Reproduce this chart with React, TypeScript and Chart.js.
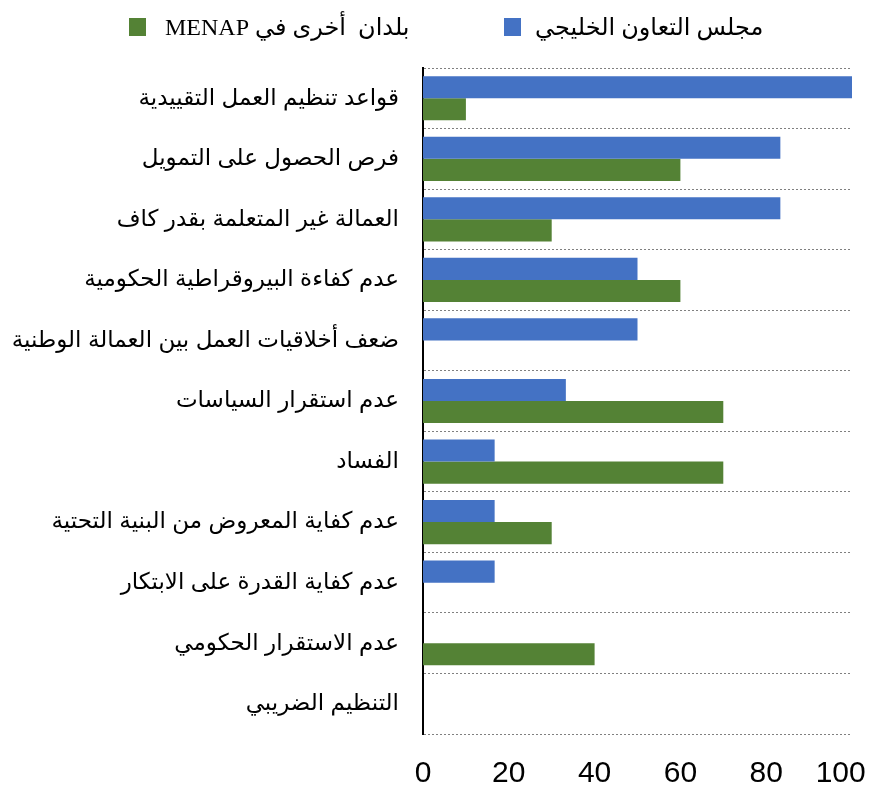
import React, { useEffect, useRef } from "react";
import { Chart, registerables } from "chart.js";

Chart.register(...registerables);

const categories = [
  "قواعد تنظيم العمل التقييدية",
  "فرص الحصول على التمويل",
  "العمالة غير المتعلمة بقدر كاف",
  "عدم كفاءة البيروقراطية الحكومية",
  "ضعف أخلاقيات العمل بين العمالة الوطنية",
  "عدم استقرار السياسات",
  "الفساد",
  "عدم كفاية المعروض من البنية التحتية",
  "عدم كفاية القدرة على الابتكار",
  "عدم الاستقرار الحكومي",
  "التنظيم الضريبي",
];

const gccValues = [100, 83.3, 83.3, 50, 50, 33.3, 16.7, 16.7, 16.7, 0, 0];
const otherMenapValues = [10, 60, 30, 60, 0, 70, 70, 30, 0, 40, 0];

const seriesNames = ["مجلس التعاون الخليجي", "بلدان  أخرى في MENAP"];
const seriesColors = ["#4472C4", "#548235"];
const xTickValues = [0, 20, 40, 60, 80, 100];

const arabicFont = "'Liberation Sans', 'DejaVu Sans', Arial, sans-serif";
const legendFont = "'Liberation Serif', 'DejaVu Sans', 'Times New Roman', serif";

export default function App() {
  const canvasRef = useRef<HTMLCanvasElement | null>(null);

  useEffect(() => {
    if (!canvasRef.current) return;
    const lastTick = xTickValues[xTickValues.length - 1];
    const chart = new Chart(canvasRef.current, {
      type: "bar",
      data: {
        labels: categories,
        datasets: [
          {
            label: seriesNames[0],
            data: gccValues,
            backgroundColor: seriesColors[0],
            borderWidth: 0,
            categoryPercentage: 0.73,
            barPercentage: 1,
          },
          {
            label: seriesNames[1],
            data: otherMenapValues,
            backgroundColor: seriesColors[1],
            borderWidth: 0,
            categoryPercentage: 0.73,
            barPercentage: 1,
          },
        ],
      },
      options: {
        indexAxis: "y",
        responsive: false,
        animation: false,
        layout: { padding: { top: 60, right: 27, left: 0, bottom: 0 } },
        plugins: {
          legend: { display: false },
          tooltip: { enabled: false },
        },
        scales: {
          x: {
            min: 0,
            max: 100,
            afterBuildTicks: (scale: any) => {
              scale.ticks = xTickValues.map((v) => ({ value: v }));
            },
            ticks: {
              color: "#000",
              font: { family: "'Liberation Sans', Arial, sans-serif", size: 30 },
              padding: 22,
              maxRotation: 0,
              autoSkip: false,
              // the last label is nudged inward, as in the source chart
              callback: (value: any) =>
                Number(value) === lastTick ? `${value}\u00A0\u00A0\u2009` : `${value}`,
            },
            grid: { display: false, drawTicks: false },
            border: { display: false },
            afterFit: (scale: any) => {
              scale.height = 50;
              scale.paddingLeft = 0;
              scale.paddingRight = 0;
            },
          },
          y: {
            ticks: {
              color: "#000",
              font: { family: arabicFont, size: 23 },
              padding: 24,
              autoSkip: false,
            },
            grid: {
              display: true,
              color: "#808080",
              lineWidth: 1,
              drawTicks: false,
              offset: true,
            },
            border: { display: true, color: "#000", width: 2, dash: [2, 2] },
            afterFit: (scale: any) => {
              scale.width = 415;
            },
          },
        },
      },
    });
    return () => chart.destroy();
  }, []);

  const legendItem = (i: number, left: number, textLeft: number) => (
    <div
      key={i}
      style={{
        position: "absolute",
        left,
        top: 10,
        height: 18,
        display: "flex",
        alignItems: "center",
        direction: "ltr",
      }}
    >
      <span
        style={{
          display: "inline-block",
          width: 17,
          height: 18,
          background: seriesColors[i],
        }}
      />
      <span
        dir="rtl"
        style={{
          marginLeft: textLeft - left - 17,
          fontFamily: legendFont,
          fontSize: 24,
          color: "#000",
          whiteSpace: "pre",
          lineHeight: "18px",
        }}
      >
        {seriesNames[i]}
      </span>
    </div>
  );

  return (
    <div style={{ position: "relative", width: 871, height: 776 }}>
      <canvas ref={canvasRef} width={871} height={776} style={{ display: "block" }} />
      {legendItem(1, 121, 157)}
      {legendItem(0, 496, 527)}
    </div>
  );
}
